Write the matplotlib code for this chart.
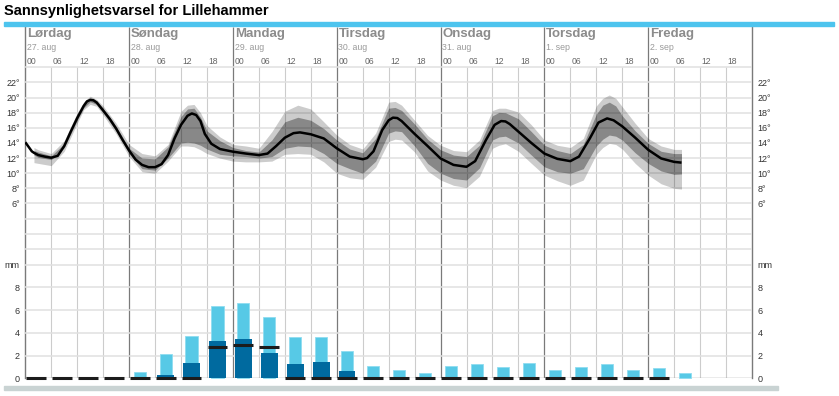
import matplotlib.pyplot as plt
from matplotlib.patches import Rectangle

plt.rcParams['font.family'] = ['Liberation Sans', 'DejaVu Sans']

# Header data
title = 'Sannsynlighetsvarsel for Lillehammer'
days = ['Lørdag', 'Søndag', 'Mandag', 'Tirsdag', 'Onsdag', 'Torsdag', 'Fredag']
dates = ['27. aug', '28. aug', '29. aug', '30. aug', '31. aug', '1. sep', '2. sep']
hour_labels = ['00', '06', '12', '18']

# Temperature median (hours counted from Saturday 00)
temp_hours = [0, 1.5, 2, 3, 4.5, 6, 7.5, 9, 10.5, 12, 13.5, 14.25, 15, 15.75, 16.5, 18, 19.5,
              21, 22.5, 24, 25.5, 27, 28.5, 30, 31.5, 33, 34.5, 36, 37.5, 38.5, 39.5, 40.5,
              41.5, 43, 45, 48, 51, 54, 56, 58, 60, 62, 63.5, 66, 69, 72, 75, 78, 79, 80.5,
              82.5, 84, 85, 86, 87, 90, 93, 96, 99, 102, 104, 106.5, 108.5, 110, 111, 112,
              114, 117, 120, 123, 126, 128, 130.5, 132.5, 134.5, 136, 138, 141, 144, 147,
              150, 151.7]
temp_median = [14.1, 12.9, 12.7, 12.4, 12.2, 12.05, 12.3, 13.6, 15.5, 17.3, 18.9, 19.5, 19.7,
               19.65, 19.35, 18.3, 17.2, 15.9, 14.4, 13.0, 11.8, 11.1, 10.8, 10.8, 11.2, 12.4,
               14.6, 16.4, 17.6, 17.9, 17.7, 16.9, 15.2, 13.9, 13.2, 12.85, 12.6, 12.4, 12.6,
               13.6, 14.7, 15.3, 15.4, 15.15, 14.6, 13.3, 12.2, 11.85, 12.0, 12.9, 15.7,
               17.0, 17.35, 17.3, 16.9, 15.2, 13.6, 11.95, 11.1, 10.85, 11.6, 14.4, 16.4,
               16.9, 16.85, 16.5, 15.5, 14.0, 12.6, 11.9, 11.6, 12.2, 14.6, 16.7, 17.25,
               17.0, 16.2, 14.7, 13.1, 11.95, 11.5, 11.4]

# Uncertainty bands
band_hours = [2, 3, 6, 9, 12, 13.5, 15, 16.5, 18, 21, 24, 27, 30, 33, 36, 37.5, 39, 40.5,
              42, 45, 48, 51, 54, 57, 60, 63, 66, 69, 72, 75, 78, 81, 84, 85.5, 87, 90, 93,
              96, 99, 102, 105, 108, 109.5, 111, 114, 117, 120, 123, 126, 129, 132, 133.5,
              135, 136.5, 138, 141, 144, 147, 150, 151.7]
outer_low = [11.4, 11.3, 11.0, 12.9, 16.6, 18.4, 19.1, 18.85, 17.7, 15.2, 12.2, 10.2, 10.0,
             11.6, 13.6, 13.6, 13.5, 13.1, 12.6, 12.0, 11.6, 11.5, 11.5, 11.6, 12.5, 12.6,
             12.5, 11.5, 10.0, 9.4, 9.2, 10.8, 14.2, 14.5, 14.4, 12.8, 10.3, 9.1, 8.4, 8.1,
             9.6, 13.3, 13.7, 13.9, 12.9, 11.3, 9.75, 9.0, 8.4, 9.1, 12.5, 13.4, 13.95,
             13.8, 13.2, 11.3, 9.75, 8.6, 8.0, 7.9]
outer_high = [13.4, 13.1, 12.6, 14.3, 18.0, 19.4, 20.2, 19.75, 18.9, 16.6, 13.8, 12.6, 12.3,
              13.8, 18.2, 19.0, 19.1, 18.0, 16.3, 14.8, 13.8, 13.6, 13.3, 15.5, 18.2, 19.0,
              18.5, 16.8, 15.05, 13.8, 13.2, 15.3, 19.4, 19.5, 19.0, 17.0, 15.0, 13.7, 13.0,
              12.85, 14.4, 18.3, 18.6, 18.6, 18.1, 16.4, 14.4, 13.7, 13.4, 14.6, 18.9, 19.9,
              20.35, 19.9, 18.8, 16.6, 14.6, 13.6, 13.15, 13.15]
inner_low = [12.4, 12.1, 11.8, 13.4, 17.0, 18.65, 19.45, 19.1, 18.0, 15.6, 12.6, 10.6, 10.4,
             12.0, 14.0, 14.1, 14.0, 13.7, 13.2, 12.5, 12.3, 12.2, 12.0, 12.2, 13.3, 13.6,
             13.5, 12.6, 11.3, 10.6, 10.0, 11.6, 15.3, 15.6, 15.5, 13.6, 11.3, 10.0, 9.3,
             9.1, 10.7, 14.4, 14.8, 14.9, 14.0, 12.4, 10.85, 10.2, 10.0, 10.6, 13.6, 14.5,
             15.05, 14.9, 14.4, 12.7, 11.3, 10.3, 9.85, 9.9]
inner_high = [13.0, 12.8, 12.3, 13.9, 17.6, 19.15, 19.95, 19.6, 18.6, 16.2, 13.3, 12.0, 11.9,
              13.5, 17.5, 18.5, 18.6, 17.4, 15.6, 14.3, 13.4, 13.0, 12.8, 14.4, 16.8, 17.4,
              17.0, 15.9, 14.4, 13.2, 12.7, 14.6, 18.6, 18.7, 18.3, 16.5, 14.5, 13.1, 12.4,
              12.2, 13.7, 17.6, 18.05, 18.0, 17.2, 15.5, 13.7, 13.0, 12.6, 13.8, 17.8, 19.0,
              19.4, 18.9, 17.6, 15.6, 13.95, 12.9, 12.6, 12.6]

# Precipitation per 6-hour period (mm)
precip_max = [0, 0, 0, 0, 0.53, 2.14, 3.75, 6.36, 6.6, 5.36, 3.63, 3.63, 2.37, 1.05, 0.76,
              0.44, 1.05, 1.26, 0.97, 1.35, 0.76, 0.97, 1.26, 0.76, 0.88, 0.44]
precip_min = [0, 0, 0, 0, 0, 0.32, 1.35, 3.28, 3.46, 2.22, 1.26, 1.46, 0.64, 0, 0,
              0, 0, 0, 0, 0, 0, 0, 0, 0, 0, 0]
precip_median = [0, 0, 0, 0, 0, 0, 0, 2.78, 2.9, 2.72, 0, 0, 0, 0, 0,
                 0, 0, 0, 0, 0, 0, 0, 0, 0, 0, None]

W, H = 839, 396
fig = plt.figure(figsize=(W / 100, H / 100), dpi=100)


def px_axes(left, top, right, bottom):
    # axes placed in pixel coordinates of the picture
    return fig.add_axes([left / W, 1 - bottom / H, (right - left) / W, (bottom - top) / H])


X0, X1 = 25.3, 752
TOP, BOT = 27, 378.3

# Title and the coloured bars
fig.text(4 / W, 1 - 14.5 / H, title, fontsize=10.5, fontweight='bold', color='black',
         va='baseline', ha='left')
fig.patches.append(Rectangle((4 / W, 1 - 25.8 / H), 830 / W, 3.5 / H,
                             transform=fig.transFigure, color='#4dc4ee'))
fig.patches.append(Rectangle((4 / W, 1 - 389.5 / H), 774 / W, 3.5 / H,
                             transform=fig.transFigure, color='#c9d3d3'))

# Background axes: header text and vertical grid (y in pixels)
bg = px_axes(X0, TOP, X1, BOT)
bg.set_xlim(0, 168)
bg.set_ylim(BOT, TOP)
bg.set_xticks([])
bg.set_yticks([])
bg.patch.set_alpha(0)
for s in ['top', 'bottom']:
    bg.spines[s].set_visible(False)
for s in ['left', 'right']:
    bg.spines[s].set_color('#7a7a7a')
    bg.spines[s].set_linewidth(1)

for h in range(6, 168, 6):
    if h % 24 == 0:
        bg.vlines(h, TOP, BOT, color='#7a7a7a', lw=0.9, zorder=1)
    else:
        bg.vlines(h, 66.7, BOT, color='#cccccc', lw=0.8, zorder=1)
bg.hlines(BOT, 0, 168, color='#9a9a9a', lw=1, zorder=1)

for i, (d, dt) in enumerate(zip(days, dates)):
    x = i * 24
    bg.text(x + 0.4, 34.5, d, fontsize=9.5, fontweight='bold', color='#8c8c8c',
            va='center', ha='left')
    bg.text(x + 0.4, 48, dt, fontsize=6.3, color='#9a9a9a', va='center', ha='left')
    for j, hl in enumerate(hour_labels):
        bg.text(x + j * 6 + 0.4, 62, hl, fontsize=6.2, color='#666666',
                va='center', ha='left')

# Temperature axes
ta = px_axes(X0, 60, X1, 264.5)
t_top = 22 - (60 - 82.5) / 7.56
t_bot = 22 - (264.5 - 82.5) / 7.56
ta.set_xlim(0, 168)
ta.set_ylim(t_bot, t_top)
ta.patch.set_alpha(0)
for s in ta.spines.values():
    s.set_visible(False)
ta.set_xticks([])
ta.set_yticks(range(6, 24, 2))
ta.set_yticklabels([f'{t}°' for t in range(6, 24, 2)])
ta.tick_params(axis='y', length=0, labelsize=6.5, labelcolor='#333333',
               labelleft=True, labelright=True, pad=4)
for t in range(0, 26, 2):
    ta.axhline(t, color='#e0e0e0', lw=1.1, zorder=0)

ta.fill_between(band_hours, outer_low, outer_high, color='black', alpha=0.2, lw=0, zorder=2)
ta.fill_between(band_hours, inner_low, inner_high, color='black', alpha=0.333, lw=0, zorder=2)
ta.plot(temp_hours, temp_median, color='black', lw=1.8, zorder=3,
        solid_joinstyle='round', solid_capstyle='butt')

# Precipitation axes
pa = px_axes(X0, 262, X1, 383)
pa.set_xlim(0, 168)
pa.set_ylim((378.3 - 383) / 11.37, (378.3 - 262) / 11.37)
pa.patch.set_alpha(0)
for s in pa.spines.values():
    s.set_visible(False)
pa.set_xticks([])
pa.set_yticks([0, 2, 4, 6, 8, 10])
pa.set_yticklabels(['0', '2', '4', '6', '8', 'mm'])
pa.tick_params(axis='y', length=0, labelsize=6.5, labelcolor='#333333',
               labelleft=True, labelright=True, pad=4)
for v in [2, 4, 6, 8, 10]:
    pa.axhline(v, color='#e0e0e0', lw=1.1, zorder=0)

centers = [i * 6 + 2.43 for i in range(len(precip_max))]
pa.bar(centers, precip_max, width=2.8, color='#57c9e6', edgecolor='#8fdcf0', lw=0.6, zorder=2)
pa.bar(centers, precip_min, width=3.8, color='#006a9f', lw=0, zorder=3)
med_x = [c for c, m in zip(centers, precip_median) if m is not None]
med_y = [m for m in precip_median if m is not None]
pa.hlines(med_y, [c - 2.3 for c in med_x], [c + 2.3 for c in med_x],
          color='#1c1c1c', lw=2.2, zorder=4)

fig.savefig('out.png', dpi=100)
